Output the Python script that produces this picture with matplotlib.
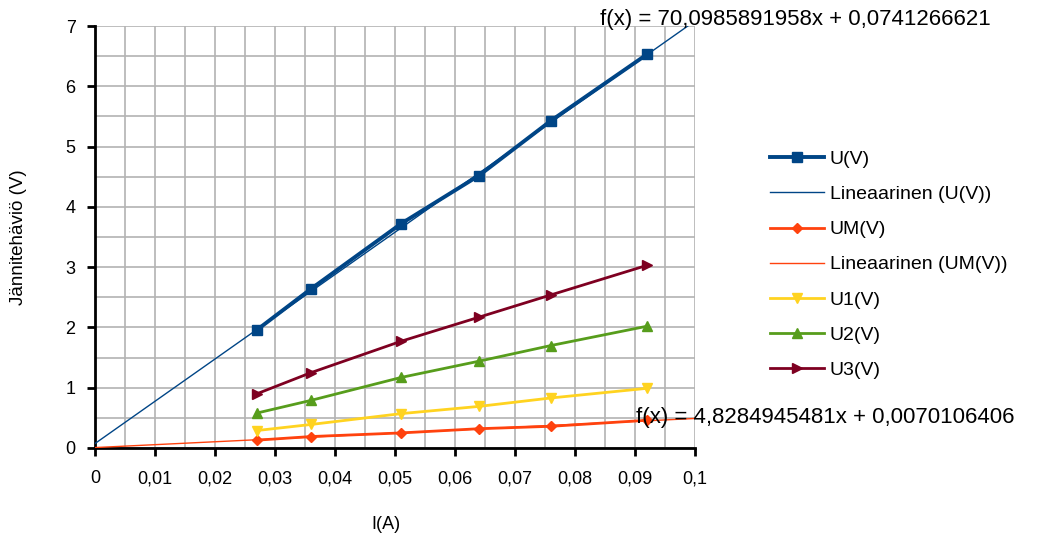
import numpy as np
import matplotlib
matplotlib.use("Agg")
import matplotlib.pyplot as plt
from matplotlib.ticker import MultipleLocator, FuncFormatter

plt.rcParams['font.family'] = ['Liberation Sans', 'DejaVu Sans']

I_A = [0.027, 0.036, 0.051, 0.064, 0.076, 0.092]
U_V = [1.96, 2.64, 3.72, 4.52, 5.43, 6.53]
UM_V = [0.13, 0.19, 0.25, 0.32, 0.36, 0.46]
U1_V = [0.29, 0.39, 0.57, 0.69, 0.83, 0.99]
U2_V = [0.58, 0.79, 1.17, 1.44, 1.70, 2.02]
U3_V = [0.90, 1.25, 1.77, 2.17, 2.54, 3.03]

fit_U = (70.0985891958, 0.0741266621)
fit_UM = (4.8284945481, 0.0070106406)
eq_U = "f(x) = 70,0985891958x + 0,0741266621"
eq_UM = "f(x) = 4,8284945481x + 0,0070106406"

c_U = "#004586"
c_UM = "#ff420e"
c_U1 = "#ffd320"
c_U2 = "#579d1c"
c_U3 = "#7e0021"

fig = plt.figure(figsize=(10.46, 5.37), dpi=100)
ax = fig.add_axes([95/1046, 1-448/537, 600/1046, 422/537])

xs = np.array([0.0, 0.1])
ax.plot(I_A, U_V, color=c_U, lw=2.8, marker='s', ms=7, label='U(V)', zorder=5)
ax.plot(xs, fit_U[0]*xs + fit_U[1], color=c_U, lw=1.0, label='Lineaarinen (U(V))', zorder=4)
ax.plot(I_A, UM_V, color=c_UM, lw=2, marker='D', ms=5, label='UM(V)', zorder=5)
ax.plot(xs, fit_UM[0]*xs + fit_UM[1], color=c_UM, lw=1.0, label='Lineaarinen (UM(V))', zorder=4)
ax.plot(I_A, U1_V, color=c_U1, lw=2, marker='v', ms=7, label='U1(V)', zorder=5)
ax.plot(I_A, U2_V, color=c_U2, lw=2, marker='^', ms=7, label='U2(V)', zorder=5)
ax.plot(I_A, U3_V, color=c_U3, lw=2, marker='>', ms=7, label='U3(V)', zorder=5)

ax.set_xlim(0, 0.1)
ax.set_ylim(0, 7)
ax.xaxis.set_major_locator(MultipleLocator(0.01))
ax.xaxis.set_minor_locator(MultipleLocator(0.005))
ax.yaxis.set_major_locator(MultipleLocator(1))
ax.yaxis.set_minor_locator(MultipleLocator(0.5))
ax.xaxis.set_major_formatter(FuncFormatter(lambda v, p: ("%g" % round(v, 3)).replace('.', ',')))
ax.yaxis.set_major_formatter(FuncFormatter(lambda v, p: "%d" % round(v)))
ax.grid(which='both', color='#b3b3b3', lw=1.2)
ax.set_axisbelow(True)
for s in ['top', 'right']:
    ax.spines[s].set_visible(False)
for s in ['left', 'bottom']:
    ax.spines[s].set_linewidth(2)
ax.tick_params(which='major', length=6, width=2, labelsize=13)
ax.tick_params(axis='x', which='major', pad=10)
ax.tick_params(axis='y', which='major', pad=8)
ax.tick_params(which='minor', length=0)

ax.set_xlabel('I(A)', fontsize=13)
ax.xaxis.set_label_coords(0.485, -0.16)
ax.set_ylabel('Jännitehäviö (V)', fontsize=13.5, labelpad=28)

fig.text(600/1046, 1-20/537, eq_U, fontsize=16, va='center', ha='left')
fig.text(636/1046, 1-418/537, eq_UM, fontsize=16, va='center', ha='left')

leg = fig.legend(loc='upper left', bbox_to_anchor=(752/1046, 1-133/537), frameon=False,
                 fontsize=14, handlelength=2.8, labelspacing=0.9, handletextpad=0.3)

fig.savefig('out.png', dpi=100)
